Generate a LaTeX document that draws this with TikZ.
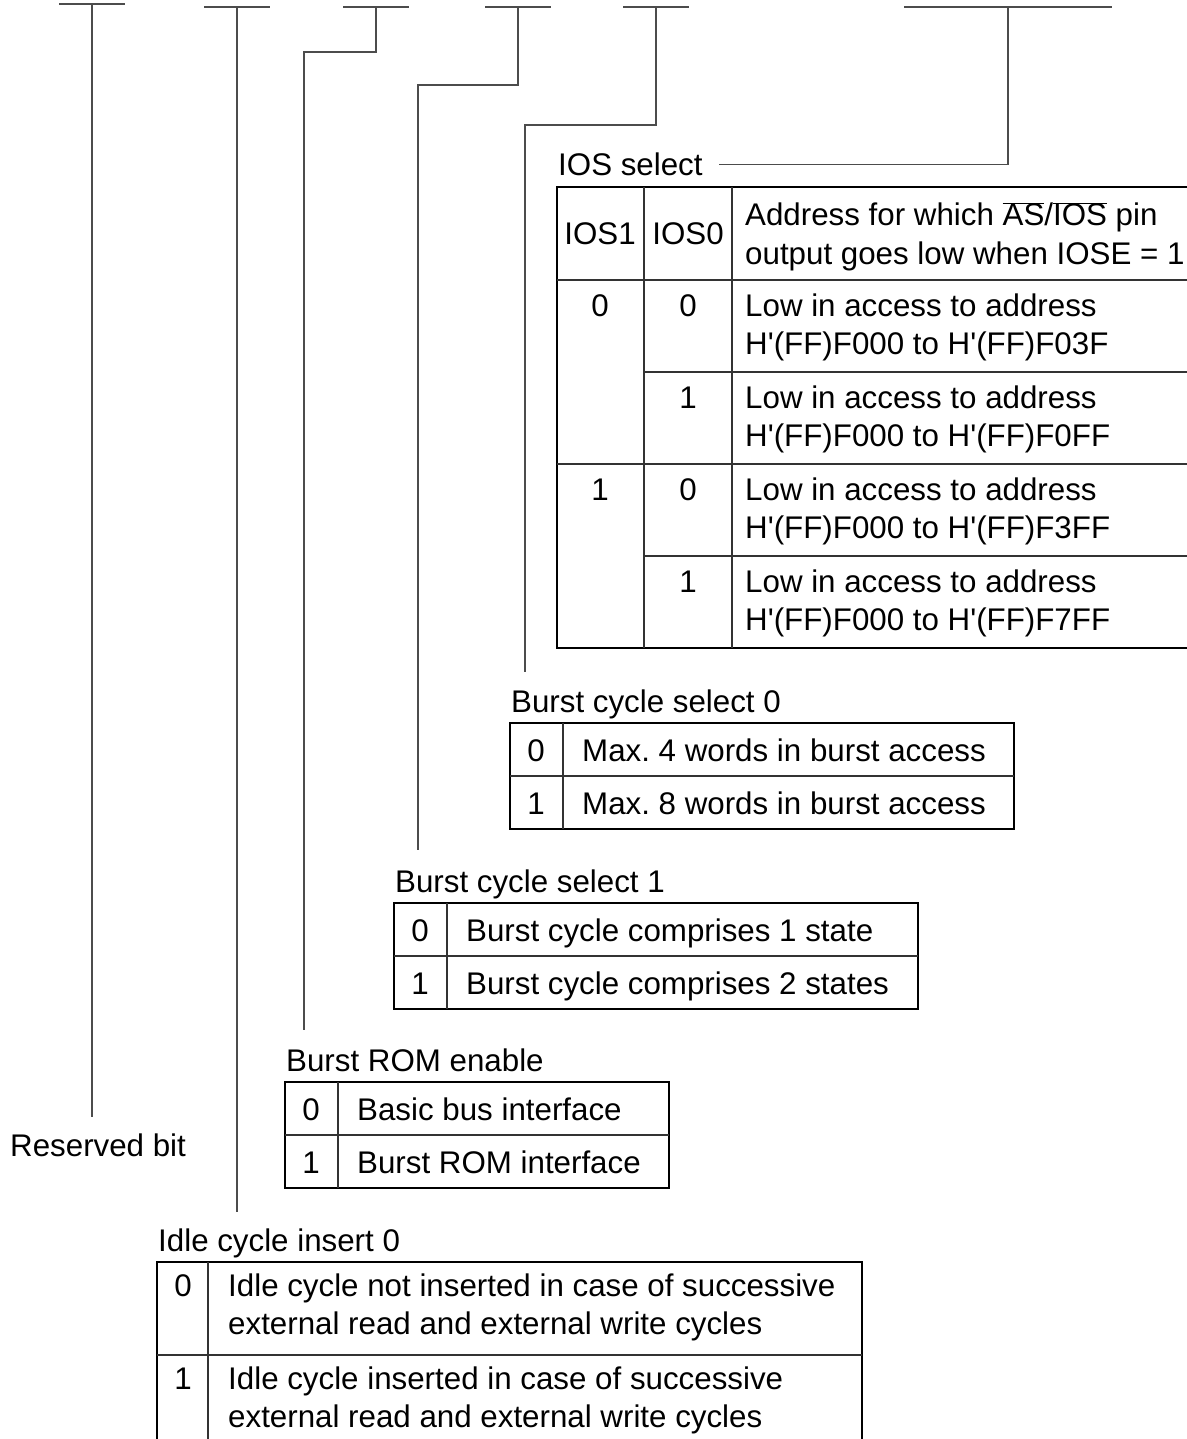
\documentclass[tikz,border=0pt]{standalone}
\usepackage{fontspec}
\setmainfont{Liberation Sans}
\usetikzlibrary{positioning}
\newcommand\hq{\textquotesingle}
\frenchspacing

\begin{document}
\begin{tikzpicture}[x=1pt,y=-1pt,every node/.style={font=\fontsize{31.3}{38}\selectfont,inner sep=0pt},
  frame/.style={draw,line width=1.8pt},rule/.style={line width=1.3pt,black!80},
  lead/.style={line width=1.2pt,black!70},
  ttl/.style={above right=11pt and 1pt of #1,anchor=base west},
  txt/.style={anchor=base west},dig/.style={anchor=base}]
\useasboundingbox (0,0) rectangle (1186,1439);
% bit bars on top
\foreach \n/\x/\y/\w in {1/92/4/33,2/237/7/33,3/376/7/33,4/518/7/33,5/656/7/33,6/1008/7/104}
  { \coordinate (b\n) at (\x,\y); \draw[lead] ({\x-\w},\y) -- ({\x+\w},\y); }
% IOS select table
\coordinate (ios) at (557,187);
\draw[frame] (ios) rectangle (1200,648);
\draw[rule] (644,187) -- (644,648) (732,187) -- (732,648) (557,280) -- (1200,280) (557,464) -- (1200,464)
  (644,372) -- (1200,372) (644,556) -- (1200,556);
\node[ttl=ios] (ios-t) {IOS select};
\node (ios-h1) at (600,234) {IOS1};
\node (ios-h0) at (688,234) {IOS0};
\node[txt] (ios-ha) at (745,226) {Address for which $\overline{\mbox{AS}}$/$\overline{\mbox{IOS}}$ pin};
\node[txt] (ios-hb) at (745,264) {output goes low when IOSE = 1};
\node[dig] (ios-s0) at (600,316) {0};
\node[dig] (ios-s1) at (600,500) {1};
\foreach \k/\y/\v/\a in {0/316/0/F03F,1/408/1/F0FF,2/500/0/F3FF,3/592/1/F7FF} {
  \node[dig] (ios-d\k) at (688,\y) {\v};
  \node[txt] (ios-a\k) at (745,\y) {Low in access to address};
  \node[txt] (ios-b\k) at (745,{\y+38}) {H\hq(FF)F000 to H\hq(FF)\a};
}
% two-row tables
\foreach \n/\x/\y/\w/\h/\p/\q in {bc0/510/723/504/{Burst cycle select 0}/{Max. 4 words in burst access}/{Max. 8 words in burst access},
  bc1/394/903/524/{Burst cycle select 1}/{Burst cycle comprises 1 state}/{Burst cycle comprises 2 states},
  brom/285/1082/384/{Burst ROM enable}/{Basic bus interface}/{Burst ROM interface}} {
  \coordinate (\n) at (\x,\y);
  \draw[frame] (\n) rectangle ++(\w,106);
  \draw[rule] ({\x+53},\y) -- ++(0,106) (\x,{\y+53}) -- ++(\w,0);
  \node[ttl=\n] (\n-t) {\h};
  \node[dig] (\n-0) at ({\x+26},{\y+38}) {0};
  \node[dig] (\n-1) at ({\x+26},{\y+91}) {1};
  \node[txt] (\n-a) at ({\x+72},{\y+38}) {\p};
  \node[txt] (\n-b) at ({\x+72},{\y+91}) {\q};
}
% idle cycle table
\coordinate (idle) at (157,1262);
\draw[frame] (idle) rectangle (862,1470);
\draw[rule] (208,1262) -- (208,1470) (157,1355) -- (862,1355);
\node[ttl=idle] (idle-t) {Idle cycle insert 0};
\node[dig] (idle-0) at (183,1296) {0};
\node[dig] (idle-1) at (183,1389) {1};
\node[txt] (idle-a) at (228,1296) {Idle cycle not inserted in case of successive};
\node[txt] (idle-b) at (228,1334) {external read and external write cycles};
\node[txt] (idle-c) at (228,1389) {Idle cycle inserted in case of successive};
\node[txt] (idle-d) at (228,1427) {external read and external write cycles};
\node[txt] (rsv) at (10,1156) {Reserved bit};
% leader lines
\coordinate (e1) at (92,1117);
\coordinate (e2) at (237,1212);
\coordinate (e3) at (304,1030);
\coordinate (e4) at (418,850);
\coordinate (e5) at (525,672);
\draw[lead] (b1) -- (e1);
\draw[lead] (b2) -- (e2);
\draw[lead] (b3) -- ++(0,45) -| (e3);
\draw[lead] (b4) -- ++(0,78) -| (e4);
\draw[lead] (b5) -- ++(0,118) -| (e5);
\draw[lead] (b6) |- ([xshift=16pt]ios-t.east);
\end{tikzpicture}
\end{document}
